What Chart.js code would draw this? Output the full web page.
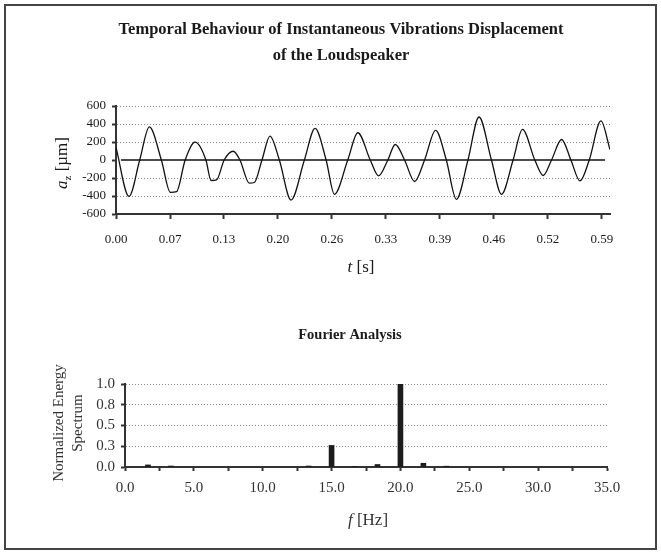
<!DOCTYPE html>
<html>
<head>
<meta charset="utf-8">
<script src="https://cdn.jsdelivr.net/npm/chart.js@4.4.1/dist/chart.umd.min.js"></script>
<style>
  body { margin: 0; background: #fff; }
  #wrap { position: relative; width: 661px; height: 554px; }
  #frame { position: absolute; left: 4px; top: 4px; width: 649px; height: 542px; border: 2px solid #444; }
  canvas { position: absolute; left: 0; }
  #dispChart { top: 0; }
  #specChart { top: 290px; }
</style>
</head>
<body>
<div id="wrap">
  <div id="frame"></div>
  <canvas id="dispChart" width="661" height="290"></canvas>
  <canvas id="specChart" width="661" height="264"></canvas>
</div>
<script>
const serif = '"Liberation Serif", "DejaVu Serif", serif';

// displacement signal, read at peaks, troughs and zero crossings
const timeS = [0, 0.0158, 0.0288, 0.0405, 0.0551, 0.066, 0.0735, 0.084, 0.0961, 0.1092,
  0.1155, 0.122, 0.1314, 0.1424, 0.1505, 0.162, 0.168, 0.1773, 0.187, 0.1984,
  0.2126, 0.2288, 0.2418, 0.2552, 0.2653, 0.2815, 0.2937, 0.3088, 0.3189, 0.3302,
  0.3392, 0.3505, 0.3627, 0.3748, 0.3882, 0.4012, 0.4134, 0.4275, 0.4409, 0.456,
  0.4682, 0.4823, 0.4937, 0.5087, 0.5188, 0.529, 0.5412, 0.5525, 0.5635, 0.5748,
  0.589, 0.6];
const dispUm = [140, -405, 0, 368, 0, -360, -352, 0, 198, 0,
  -228, -222, 0, 97, 0, -258, -250, 0, 265, 0,
  -445, 0, 352, 0, -381, 0, 303, 0, -176, 0,
  172, 0, -239, 0, 329, 0, -437, 0, 478, 0,
  -381, 0, 340, 0, -172, 0, 228, 0, -232, 0,
  434, 116];

// horizontal zero reference line
const zeroLineT = [0.006, 0.594];
const zeroLineUm = [0, 0];

const timeTicks = [0, 0.0656, 0.1311, 0.1967, 0.2622, 0.3278, 0.3933, 0.4589, 0.5244, 0.59];
const timeTickLabels = ['0.00', '0.07', '0.13', '0.20', '0.26', '0.33', '0.39', '0.46', '0.52', '0.59'];

// Fourier spectrum
const freqHz = [1.667, 3.333, 13.333, 15, 16.667, 18.333, 20, 21.667, 23.333];
const energyNorm = [0.025, 0.012, 0.012, 0.26, 0.008, 0.03, 1.0, 0.045, 0.01];

// draws text made of parts (italic, subscript) centred at a point
const richText = {
  id: 'richText',
  afterDraw(chart, args, opts) {
    const ctx = chart.ctx;
    (opts.items || []).forEach(item => {
      ctx.save();
      ctx.translate(item.x, item.y);
      if (item.rotate) ctx.rotate(item.rotate);
      ctx.fillStyle = item.color || '#1a1a1a';
      ctx.textBaseline = 'middle';
      const parts = item.parts.map(p => {
        const size = p.sub ? item.size * 0.65 : item.size;
        const font = (p.italic ? 'italic ' : '') + (item.bold ? 'bold ' : '') + size + 'px ' + serif;
        ctx.font = font;
        return { p, font, w: ctx.measureText(p.t).width };
      });
      const total = parts.reduce((s, q) => s + q.w, 0);
      let x = -total / 2;
      parts.forEach(q => {
        ctx.font = q.font;
        ctx.fillText(q.p.t, x, q.p.sub ? item.size * 0.3 : 0);
        x += q.w;
      });
      ctx.restore();
    });
  }
};

const tickFont = size => ({ family: serif, size: size });
const gridGrey = '#8a8a8a';
const axisDark = '#333';

new Chart(document.getElementById('dispChart'), {
  type: 'line',
  data: {
    datasets: [
      {
        data: timeS.map((t, i) => ({ x: t, y: dispUm[i] })),
        borderColor: '#111',
        borderWidth: 1.3,
        pointRadius: 0,
        cubicInterpolationMode: 'monotone'
      },
      {
        data: zeroLineT.map((t, i) => ({ x: t, y: zeroLineUm[i] })),
        borderColor: '#111',
        borderWidth: 1.5,
        pointRadius: 0
      }
    ]
  },
  options: {
    responsive: false,
    animation: false,
    layout: { padding: { top: 106, left: 0, right: 51, bottom: 0 } },
    plugins: {
      legend: { display: false },
      tooltip: { enabled: false },
      richText: {
        items: [
          { x: 341, y: 30, size: 16.5, bold: true, parts: [{ t: 'Temporal Behaviour of Instantaneous Vibrations Displacement' }] },
          { x: 341, y: 56, size: 16.5, bold: true, parts: [{ t: 'of the Loudspeaker' }] },
          { x: 63, y: 163, size: 17, rotate: -Math.PI / 2, parts: [{ t: 'a', italic: true }, { t: 'z', sub: true }, { t: ' [µm]' }] },
          { x: 361, y: 268, size: 17, parts: [{ t: 't', italic: true }, { t: ' [s]' }] }
        ]
      }
    },
    scales: {
      x: {
        type: 'linear',
        min: 0,
        max: 0.6,
        afterBuildTicks: s => { s.ticks = timeTicks.map(v => ({ value: v })); },
        afterFit: s => { s.height = 76; },
        grid: { drawOnChartArea: false, tickLength: 5, tickWidth: 2, tickColor: axisDark },
        border: { color: axisDark, width: 2 },
        ticks: {
          padding: 13, autoSkip: false, maxRotation: 0,
          font: tickFont(13), color: '#1a1a1a',
          callback: (v, i) => timeTickLabels[i]
        }
      },
      y: {
        min: -600,
        max: 600,
        afterFit: s => { s.width = 116; },
        grid: {
          color: c => (c.tick && (c.tick.value === -600 || c.tick.value === 0)) ? 'transparent' : gridGrey,
          tickLength: 4, tickWidth: 2, tickColor: axisDark
        },
        border: { color: axisDark, width: 2, dash: [1, 2] },
        ticks: {
          stepSize: 200, padding: 6, autoSkip: false,
          font: tickFont(13), color: '#1a1a1a',
          callback: v => String(v)
        }
      }
    }
  },
  plugins: [richText]
});

new Chart(document.getElementById('specChart'), {
  type: 'bar',
  data: {
    datasets: [{
      data: freqHz.map((f, i) => ({ x: f, y: energyNorm[i] })),
      backgroundColor: '#1c1c1c',
      barThickness: 5
    }]
  },
  options: {
    responsive: false,
    animation: false,
    layout: { padding: { top: 94, left: 0, right: 54, bottom: 0 } },
    plugins: {
      legend: { display: false },
      tooltip: { enabled: false },
      richText: {
        items: [
          { x: 350, y: 45, size: 14.5, bold: true, parts: [{ t: 'Fourier Analysis' }] },
          { x: 59, y: 133, size: 15, rotate: -Math.PI / 2, color: '#333', parts: [{ t: 'Normalized Energy' }] },
          { x: 78, y: 133, size: 15, rotate: -Math.PI / 2, color: '#333', parts: [{ t: 'Spectrum' }] },
          { x: 368, y: 231, size: 17, color: '#333', parts: [{ t: 'f', italic: true }, { t: ' [Hz]' }] }
        ]
      }
    },
    scales: {
      x: {
        type: 'linear',
        min: 0,
        max: 35,
        offset: false,
        afterFit: s => { s.height = 87; },
        grid: { offset: false, drawOnChartArea: false, tickLength: 4, tickWidth: 2, tickColor: axisDark },
        border: { color: axisDark, width: 2 },
        ticks: {
          stepSize: 2.5, padding: 8, autoSkip: false, maxRotation: 0,
          font: tickFont(15), color: '#333',
          callback: v => (v % 5 === 0 ? v.toFixed(1) : '')
        }
      },
      y: {
        min: 0,
        max: 1,
        afterFit: s => { s.width = 125; },
        grid: {
          color: c => (c.tick && c.tick.value === 0) ? 'transparent' : gridGrey,
          tickLength: 4, tickWidth: 2, tickColor: axisDark
        },
        border: { color: axisDark, width: 2, dash: [1, 2] },
        ticks: {
          stepSize: 0.25, padding: 6, autoSkip: false,
          font: tickFont(15), color: '#333',
          callback: v => v.toFixed(1)
        }
      }
    }
  },
  plugins: [richText]
});
</script>
</body>
</html>
